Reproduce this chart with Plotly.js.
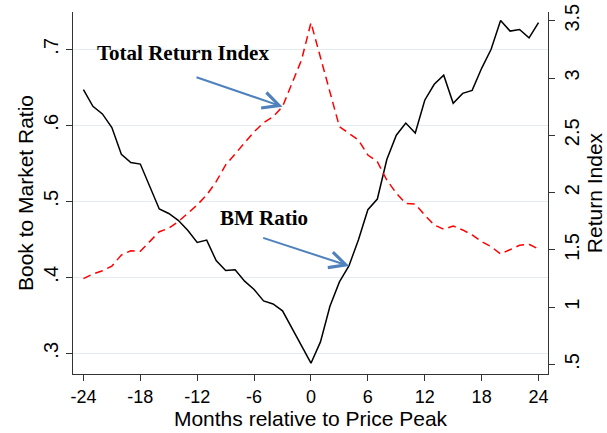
<!DOCTYPE html>
<html>
<head>
<meta charset="utf-8">
<script src="https://cdn.plot.ly/plotly-3.0.1.min.js"></script>
<style>html,body{margin:0;padding:0;background:#fff;}#chart{width:607px;height:433px;}</style>
</head>
<body>
<div id="chart"></div>
<script>
// Months relative to the price peak
const months = [-24,-23,-22,-21,-20,-19,-18,-17,-16,-15,-14,-13,-12,-11,-10,-9,-8,-7,-6,-5,-4,-3,-2,-1,0,
                1,2,3,4,5,6,7,8,9,10,11,12,13,14,15,16,17,18,19,20,21,22,23,24];
// Book to market ratio (left axis)
const bmRatio = [0.647,0.625,0.615,0.597,0.562,0.551,0.549,0.519,0.490,0.484,0.475,0.462,0.446,0.449,0.422,0.409,0.410,0.395,0.384,0.369,0.365,0.356,0.333,0.309,0.287,
                 0.315,0.362,0.394,0.415,0.449,0.489,0.503,0.555,0.587,0.603,0.590,0.633,0.654,0.666,0.629,0.642,0.646,0.675,0.700,0.738,0.724,0.726,0.715,0.735];
// Total return index (right axis)
const returnIndex = [1.249,1.290,1.318,1.359,1.455,1.493,1.488,1.572,1.659,1.689,1.746,1.819,1.892,1.979,2.095,2.241,2.337,2.430,2.531,2.610,2.662,2.750,2.954,3.157,3.483,
                     3.186,2.866,2.575,2.517,2.459,2.328,2.270,2.110,1.994,1.906,1.900,1.804,1.717,1.680,1.709,1.674,1.630,1.572,1.528,1.464,1.499,1.540,1.549,1.508];

const xTickVals = [-24,-18,-12,-6,0,6,12,18,24];
const xTickText = ['-24','-18','-12','-6','0','6','12','18','24'];
const yTickVals = [0.3,0.4,0.5,0.6,0.7];
const yTickText = ['.3','.4','.5','.6','.7'];
const y2TickVals = [0.5,1,1.5,2,2.5,3,3.5];
const y2TickText = ['.5','1','1.5','2','2.5','3','3.5'];

const sans = 'Liberation Sans, Arial, Helvetica, sans-serif';
const serif = 'Liberation Serif, Times New Roman, serif';
const arrowBlue = '#4f81bd';

const traces = [
  {x: months, y: bmRatio, type: 'scatter', mode: 'lines', name: 'BM Ratio',
   line: {color: '#000000', width: 1.5}, yaxis: 'y'},
  {x: months, y: returnIndex, type: 'scatter', mode: 'lines', name: 'Total Return Index',
   line: {color: '#ff0000', width: 1.5, dash: '8px,5px'}, yaxis: 'y2'}
];

const axisCommon = {
  showline: true, linecolor: '#333333', linewidth: 1,
  ticks: 'outside', ticklen: 6, tickwidth: 1, tickcolor: '#333333',
  zeroline: false, tickmode: 'array'
};

const layout = {
  width: 607, height: 433,
  margin: {l: 73, r: 59, t: 12, b: 59, pad: 0},
  paper_bgcolor: '#ffffff', plot_bgcolor: '#ffffff',
  showlegend: false,
  font: {family: sans, color: '#000000'},
  xaxis: Object.assign({}, axisCommon, {
    range: [-25.1, 25], tickvals: xTickVals, ticktext: xTickText,
    showgrid: false, tickfont: {size: 18, family: sans},
    title: {text: 'Months relative to Price Peak', font: {size: 21, family: sans}, standoff: 0}
  }),
  yaxis: Object.assign({}, axisCommon, {
    range: [0.2728, 0.7491], tickvals: yTickVals, ticktext: yTickText, tickangle: -90,
    showgrid: true, gridcolor: '#e3ecee', gridwidth: 1,
    tickfont: {size: 20, family: sans},
    title: {text: 'Book to Market Ratio', font: {size: 21, family: sans}, standoff: 0}
  }),
  yaxis2: Object.assign({}, axisCommon, {
    overlaying: 'y', side: 'right', anchor: 'x',
    range: [0.417, 3.576], tickvals: y2TickVals, ticktext: y2TickText, tickangle: -90,
    showgrid: false, tickfont: {size: 20, family: sans},
    title: {text: 'Return Index', font: {size: 21, family: sans}, standoff: 1}
  }),
  annotations: [
    {text: '<b>Total Return Index</b>', xref: 'x', yref: 'y', x: -13.55, y: 0.695,
     showarrow: false, font: {family: serif, size: 21, color: '#000000'}, xanchor: 'center', yanchor: 'middle'},
    {text: '<b>BM Ratio</b>', xref: 'x', yref: 'y', x: -4.96, y: 0.4776,
     showarrow: false, font: {family: serif, size: 21, color: '#000000'}, xanchor: 'center', yanchor: 'middle'},
    {text: '', xref: 'x', yref: 'y2', x: -3, y: 2.75, axref: 'x', ayref: 'y2', ax: -12.23, ay: 3.011,
     showarrow: true, arrowhead: 5, arrowsize: 1.6, arrowwidth: 2, arrowcolor: arrowBlue, standoff: 0},
    {text: '', xref: 'x', yref: 'y', x: 4.03, y: 0.4149, axref: 'x', ayref: 'y', ax: -5.2, ay: 0.4526,
     showarrow: true, arrowhead: 5, arrowsize: 1.6, arrowwidth: 2, arrowcolor: arrowBlue, standoff: 0}
  ]
};

Plotly.newPlot('chart', traces, layout, {staticPlot: true, displayModeBar: false});
</script>
</body>
</html>
